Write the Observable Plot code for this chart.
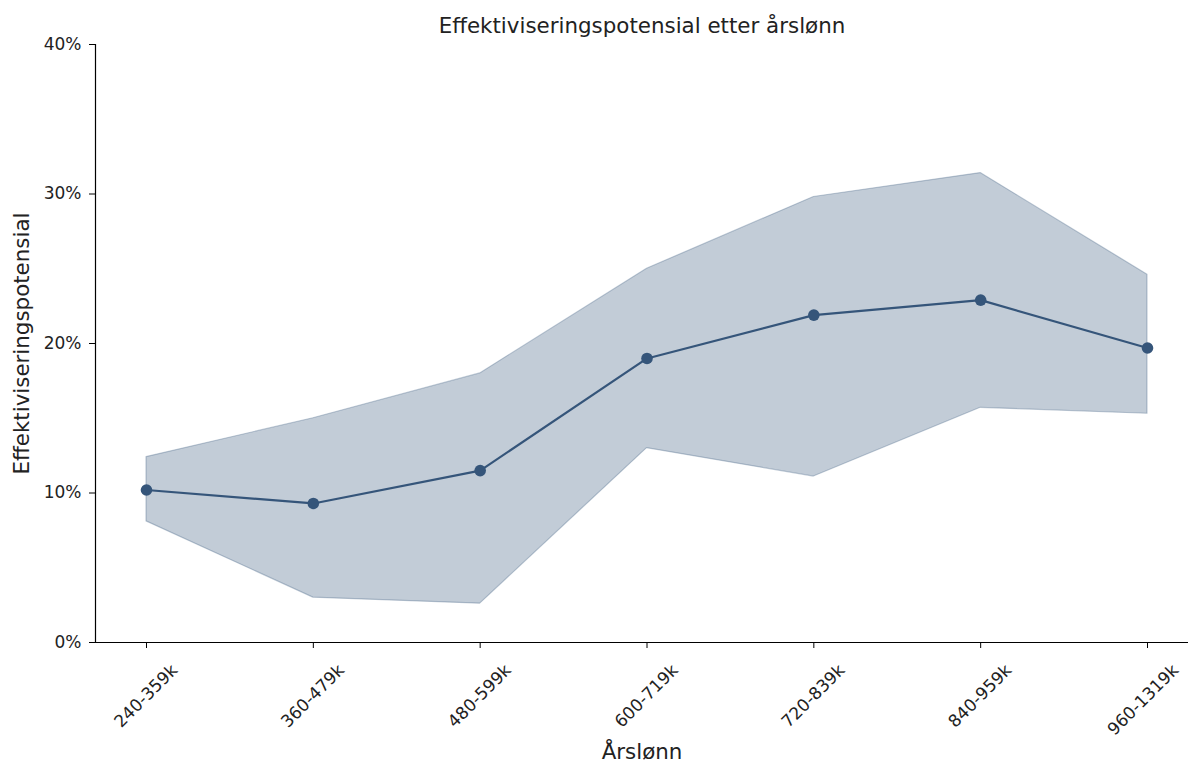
<!DOCTYPE html>
<html><head><meta charset="utf-8">
<script src="https://cdn.jsdelivr.net/npm/d3@7"></script>
<script src="https://cdn.jsdelivr.net/npm/@observablehq/plot@0.6"></script>
<style>body{margin:0;background:#fff}</style>
</head><body><div id="chart"></div>
<script>
const categories = ["240-359k","360-479k","480-599k","600-719k","720-839k","840-959k","960-1319k"];
const meanValues = [0.102, 0.093, 0.115, 0.190, 0.219, 0.229, 0.197];
const lowerValues = [0.081, 0.030, 0.026, 0.130, 0.111, 0.157, 0.153];
const upperValues = [0.124, 0.150, 0.180, 0.250, 0.298, 0.314, 0.246];
const yTicks = [0, 0.1, 0.2, 0.3, 0.4];
const title = "Effektiviseringspotensial etter årslønn";
const xLabel = "Årslønn";
const yLabel = "Effektiviseringspotensial";

const data = categories.map((c, i) => ({cat: c, mean: meanValues[i], lo: lowerValues[i], hi: upperValues[i]}));
const color = "#35557a";
const pct = d3.format(".0%");

const chart = Plot.plot({
  width: 1190, height: 765,
  marginLeft: 95, marginRight: 2, marginTop: 44, marginBottom: 123,
  style: {fontFamily: "DejaVu Sans", fontSize: "17px", color: "#222", background: "white"},
  x: {type: "point", domain: categories, padding: 0, round: false, insetLeft: 51, insetRight: 41},
  y: {domain: [0, 0.4]},
  marks: [
    Plot.areaY(data, {x: "cat", y1: "lo", y2: "hi", fill: color, fillOpacity: 0.3, stroke: color, strokeOpacity: 0.3, strokeWidth: 1.2}),
    Plot.lineY(data, {x: "cat", y: "mean", stroke: color, strokeWidth: 2.2}),
    Plot.dot(data, {x: "cat", y: "mean", r: 5.8, fill: color}),
    Plot.axisX({tickSize: 6, tickFormat: () => "", label: null, stroke: "#000"}),
    Plot.axisX({tickSize: 0, tickPadding: 3, tickRotate: -45, textAnchor: "end", lineAnchor: "middle", dx: 28, dy: 22, label: null, fill: "#222"}),
    Plot.axisY({ticks: yTicks, tickFormat: pct, tickSize: 6, tickPadding: 8, label: null, stroke: "#000", fill: "#222"}),
    Plot.ruleY([0], {stroke: "#000", strokeWidth: 1.2}),
    Plot.frame({anchor: "left", stroke: "#000", strokeWidth: 1.2}),
    Plot.text([title], {text: d => d, frameAnchor: "top", dy: -18, fontSize: 21.4, fill: "#222", lineAnchor: "middle"}),
    Plot.text([xLabel], {text: d => d, frameAnchor: "bottom", dy: 110, fontSize: 21.4, fill: "#222", lineAnchor: "middle"}),
    Plot.text([yLabel], {text: d => d, frameAnchor: "left", dx: -73, rotate: -90, fontSize: 21.4, fill: "#222", textAnchor: "middle", lineAnchor: "middle"})
  ]
});
document.getElementById("chart").appendChild(chart);
</script>
</body></html>
